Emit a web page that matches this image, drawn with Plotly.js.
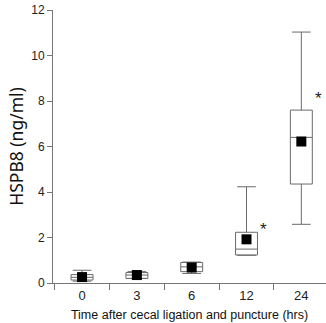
<!DOCTYPE html>
<html>
<head>
<meta charset="utf-8">
<script src="https://cdn.plot.ly/plotly-3.0.1.min.js"></script>
<style>html,body{margin:0;padding:0;background:#fff;}#chart{width:326px;height:323px;}</style>
</head>
<body>
<div id="chart"></div>
<script>
const categories = ["0", "3", "6", "12", "24"];
const lowerWhisker = [0.08, 0.2, 0.42, 1.22, 2.58];
const q1Values = [0.13, 0.2, 0.5, 1.23, 4.35];
const medianValues = [0.25, 0.35, 0.71, 1.49, 6.4];
const q3Values = [0.37, 0.46, 0.9, 2.23, 7.6];
const upperWhisker = [0.56, 0.5, 0.92, 4.23, 11.03];
const meanValues = [0.26, 0.35, 0.68, 1.92, 6.22];
const sigCategories = ["12", "24"];
const sigValues = [2.48, 8.26];
const yTicks = [0, 2, 4, 6, 8, 10, 12];

const traces = [
  {
    type: "box",
    x: categories,
    q1: q1Values,
    median: medianValues,
    q3: q3Values,
    lowerfence: lowerWhisker,
    upperfence: upperWhisker,
    width: 0.4,
    whiskerwidth: 0.85,
    fillcolor: "#ffffff",
    line: {color: "#6a6a6a", width: 1},
    boxpoints: false,
    hoverinfo: "skip",
    showlegend: false
  },
  {
    type: "scatter",
    mode: "markers",
    x: categories,
    y: meanValues,
    marker: {symbol: "square", size: 10, color: "#000000"},
    hoverinfo: "skip",
    showlegend: false
  }
];

const annotations = sigCategories.map((c, i) => ({
  x: categories.indexOf(c), y: sigValues[i], xref: "x", yref: "y",
  text: "*", showarrow: false, xshift: 17, yshift: -3,
  font: {family: "Arial, Liberation Sans, sans-serif", size: 17, color: "#222"}
}));

const layout = {
  width: 326, height: 323,
  margin: {l: 53, r: 0, t: 10, b: 40},
  paper_bgcolor: "#ffffff",
  plot_bgcolor: "#ffffff",
  font: {family: "Arial, Liberation Sans, sans-serif", size: 12, color: "#222"},
  xaxis: {
    type: "category",
    range: [-0.53, 4.45],
    tickson: "boundaries",
    ticks: "outside", ticklen: 6, tickcolor: "#777", tickwidth: 1,
    showline: true, linecolor: "#777", linewidth: 1,
    showgrid: false, zeroline: false,
    tickfont: {size: 13, color: "#222"},
    title: {text: "Time after cecal ligation and puncture (hrs)", font: {size: 12.5, color: "#111"}, standoff: 8}
  },
  yaxis: {
    range: [0, 12],
    tickvals: yTicks,
    ticks: "outside", ticklen: 5, tickcolor: "#777", tickwidth: 1,
    showline: true, linecolor: "#777", linewidth: 1,
    showgrid: false, zeroline: false,
    tickfont: {size: 12, color: "#222"},
    title: {text: "HSPB8 (ng/ml)", font: {family: "Noto Sans, Open Sans, sans-serif", size: 17.5, color: "#111"}, standoff: 3}
  },
  annotations: annotations
};

Plotly.newPlot("chart", traces, layout, {displayModeBar: false, staticPlot: true});
</script>
</body>
</html>
